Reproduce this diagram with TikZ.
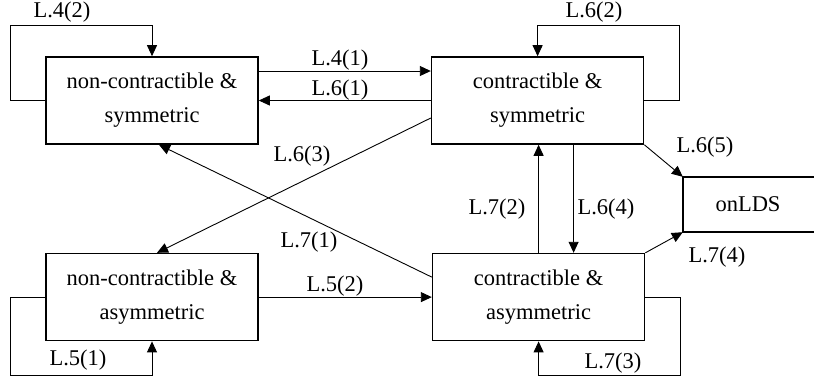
\documentclass[tikz,border=0pt]{standalone}
\usepackage{fontspec}
\setmainfont{Liberation Serif}
\usetikzlibrary{arrows.meta,positioning}

\tikzset{
	cls/.style={draw,line width=1.6pt,minimum width=212pt,minimum height=87pt,align=center,font=\fontsize{22.5}{34}\selectfont},
	lab/.style={inner sep=0pt,font=\fontsize{22.5}{26}\selectfont},
	trans/.style={line width=0.9pt,-{Triangle[length=11pt,width=10pt]}}
}

\begin{document}
\begin{tikzpicture}[x=1pt,y=-1pt]
		\useasboundingbox (0,0) rectangle (814,381);

		\node[cls] (ns) at (152,100.5) {non-contractible \&\\symmetric};
		\node[cls,right=172pt of ns] (cs) {contractible \&\\symmetric};
		\node[cls,below=108pt of ns] (na) {non-contractible \&\\asymmetric};
		\node[cls,right=173pt of na] (ca) {contractible \&\\asymmetric};
		\node[lab,minimum width=130pt,minimum height=55pt] (ld) at (748,204.5) {onLDS};
		\draw[line width=1.6pt] ([xshift=40pt]ld.north east) -- (ld.north west) -- (ld.south west) -- ([xshift=40pt]ld.south east);

		\node[lab] (l42) at (62,12.5) {L.4(2)};
		\node[lab] (l62) at (594,12.5) {L.6(2)};
		\node[lab] (l41) at (340,60) {L.4(1)};
		\node[lab] (l61) at (340,90) {L.6(1)};
		\node[lab] (l63) at (302,156) {L.6(3)};
		\node[lab] (l71) at (309,242) {L.7(1)};
		\node[lab] (l72) at (497,209) {L.7(2)};
		\node[lab] (l64) at (606,209) {L.6(4)};
		\node[lab] (l65) at (705,147) {L.6(5)};
		\node[lab] (l74) at (717,257) {L.7(4)};
		\node[lab] (l52) at (335,286) {L.5(2)};
		\node[lab] (l51) at (78,360) {L.5(1)};
		\node[lab] (l73) at (613,363) {L.7(3)};

		\draw[trans] (ns.west) -- ++(-35,0) -- ++(0,-75) -| (ns.north);
		\draw[trans] (cs.east) -- ++(35,0) -- ++(0,-75) -| (cs.north);
		\draw[trans] (na.west) -- ++(-35,0) -- ++(0,78) -| (na.south);
		\draw[trans] (ca.east) -- ++(35,0) -- ++(0,78) -| (ca.south);

		\draw[trans] ([yshift=29.5pt]ns.east) -- ([yshift=29.5pt]cs.west);
		\draw[trans] (cs.west) -- (ns.east);
		\draw[trans] (na.east) -- (ca.west);
		\draw[trans] ([yshift=-17.5pt]cs.west) -- ([xshift=5pt]na.north);
		\draw[trans] ([yshift=20pt]ca.west) -- ([xshift=7pt]ns.south);
		\draw[trans] (ca.north) -- (ca.north |- cs.south);
		\draw[trans] ([xshift=36pt]cs.south) -- ([xshift=36pt]cs.south |- ca.north);
		\draw[trans] (cs.south east) -- (ld.north west);
		\draw[trans] (ca.north east) -- (ld.south west);
\end{tikzpicture}
\end{document}
